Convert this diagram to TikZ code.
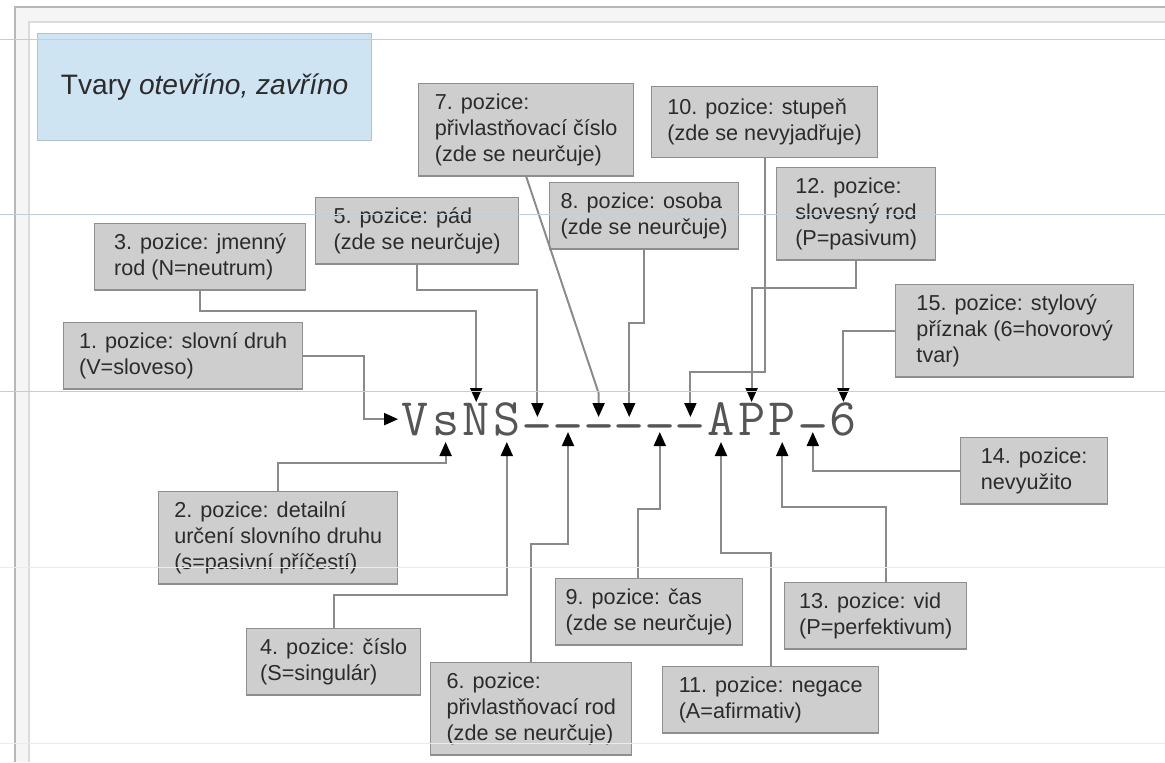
\documentclass[tikz,border=0pt]{standalone}
\usepackage{fontspec}
\usepackage{graphicx}
\setmainfont{Liberation Sans}
\usetikzlibrary{arrows.meta}
\definecolor{boxgray}{HTML}{CECECE}
\definecolor{boxedge}{HTML}{8E8E8E}
\definecolor{titleblue}{HTML}{CFE4F2}
\definecolor{titleedge}{HTML}{AFC3CF}
\definecolor{labeltext}{HTML}{2B2B2B}
\definecolor{tagtext}{HTML}{555555}
\definecolor{linegray}{HTML}{8A8A8A}
\definecolor{guideblue}{HTML}{BCD0DE}
\newcommand{\tagdash}{\raisebox{-4pt}{\scalebox{1.15}[1]{-}}}
\tikzset{
    label-box/.style = {draw=boxedge, fill=boxgray, line width=0.8pt, rectangle, align=left, inner sep=0.2cm, anchor=north west, text=labeltext, font=\fontsize{12.3}{14.8}\selectfont},
    box-size/.style 2 args = {minimum width=#1cm, minimum height=#2cm},
    title-box/.style = {draw=titleedge, fill=titleblue, line width=0.8pt, rectangle, anchor=north west, text=labeltext, font=\fontsize{16}{19}\selectfont},
    tag-char/.style = {font=\ttfamily\fontsize{30}{30}\selectfont, inner sep=0pt, anchor=base, text=tagtext},
    pointer/.style = {draw=linegray, line width=1.1pt, -{Triangle[length=2.8mm,width=2.4mm,color=black]}},
}
\begin{document}
\begin{tikzpicture}[x=0.02cm, y=-0.02cm]
\useasboundingbox (0,0) rectangle (1165,762);
\fill[black!4] (15,7) rectangle (1165,762);
\fill[white] (29,22) rectangle (1165,762);
\draw[black!28, line width=1.2pt] (15,762) -- (15,7) -- (1165,7);
\draw[black!14, line width=1pt] (29,762) -- (29,22) -- (1165,22);

\node[title-box, box-size={6.68}{2.14}] (title) at (37,33) {Tvary \textit{otevříno, zavříno}};

\node[label-box, box-size={4.78}{1.26}] (p1) at (63,322) {1. pozice: slovní druh\\(V=sloveso)};
\node[label-box, box-size={4.78}{1.76}] (p2) at (158,491) {2. pozice: detailní\\určení slovního druhu\\(s=pasivní příčestí)};
\node[label-box, box-size={4.22}{1.28}] (p3) at (94,223) {3. pozice: jmenný\\rod (N=neutrum)};
\node[label-box, box-size={3.48}{1.32}] (p4) at (246,628) {4. pozice: číslo\\(S=singulár)};
\node[label-box, box-size={4.06}{1.24}] (p5) at (315,197) {5. pozice: pád\\(zde se neurčuje)};
\node[label-box, box-size={4.02}{1.76}] (p6) at (430,662) {6. pozice:\\přivlastňovací rod\\(zde se neurčuje)};
\node[label-box, box-size={4.30}{1.74}] (p7) at (418,83) {7. pozice:\\přivlastňovací číslo\\(zde se neurčuje)};
\node[label-box, box-size={3.78}{1.22}] (p8) at (549,182) {8. pozice: osoba\\(zde se neurčuje)};
\node[label-box, box-size={3.74}{1.26}] (p9) at (555,578) {9. pozice: čas\\(zde se neurčuje)};
\node[label-box, box-size={4.52}{1.42}] (p10) at (651,86) {10. pozice: stupeň\\(zde se nevyjadřuje)};
\node[label-box, box-size={4.32}{1.32}] (p11) at (662,666) {11. pozice: negace\\(A=afirmativ)};
\node[label-box, box-size={3.18}{1.70}] (p12) at (776,167) {12. pozice:\\slovesný rod\\(P=pasivum)};
\node[label-box, box-size={3.64}{1.32}] (p13) at (784,582) {13. pozice: vid\\(P=perfektivum)};
\node[label-box, box-size={2.94}{1.30}] (p14) at (960,437) {14. pozice:\\nevyužito};
\node[label-box, box-size={4.76}{1.78}] (p15) at (895,284) {15. pozice: stylový\\příznak (6=hovorový\\tvar)};

\foreach \ch [count=\i] in {V,s,N,S,\tagdash,\tagdash,\tagdash,\tagdash,\tagdash,\tagdash,A,P,P,\tagdash,6}
    \node[tag-char] (c\i) at ({384.4+30.6*\i},435) {\ch};

\draw[pointer] (p1.east) -| ([xshift=-0.74cm]c1.west) -- ([xshift=-0.06cm]c1.west);
\draw[pointer] (p2.north) |- ([yshift=-0.56cm]c2.base) -- ([yshift=-0.14cm]c2.base);
\draw[pointer] (p3.south) |- ([yshift=2.48cm]c3.base) -- ([yshift=0.66cm]c3.base);
\draw[pointer] (p4.north) |- ([yshift=-3.2cm]c4.base) -- ([yshift=-0.14cm]c4.base);
\draw[pointer] (p5.south) |- ([yshift=2.9cm]c5.base) -- ([yshift=0.36cm]c5.base);
\draw[pointer] (p6.north) |- ([yshift=-2.18cm]c6.base) -- ([yshift=0.06cm]c6.base);
\draw[pointer] (p7.south) -- ([yshift=0.84cm]c7.base) -- ([yshift=0.36cm]c7.base);
\draw[pointer] (p8.south) |- ([yshift=2.24cm]c8.base) -- ([yshift=0.36cm]c8.base);
\draw[pointer] ([xshift=-0.23cm]p9.north) |- ([yshift=-1.48cm]c9.base) -- ([yshift=0.06cm]c9.base);
\draw[pointer] (p10.south) |- ([yshift=1.26cm]c10.base) -- ([yshift=0.36cm]c10.base);
\draw[pointer] (p11.north) |- ([yshift=-2.36cm]c11.base) -- ([yshift=-0.14cm]c11.base);
\draw[pointer] (p12.south) |- ([yshift=2.94cm]c12.base) -- ([yshift=0.66cm]c12.base);
\draw[pointer] ([xshift=0.2cm]p13.north) |- ([yshift=-1.44cm]c13.base) -- ([yshift=-0.14cm]c13.base);
\draw[pointer] (p14.west) -| ([yshift=0.06cm]c14.base);
\draw[pointer] (p15.west) -| ([yshift=0.66cm]c15.base);

\foreach \y in {39,214,391}
    \draw[guideblue, line width=0.5pt] (0,\y) -- (1165,\y);
\foreach \y in {567,743}
    \draw[black!8, line width=0.5pt] (0,\y) -- (1165,\y);
\end{tikzpicture}
\end{document}
